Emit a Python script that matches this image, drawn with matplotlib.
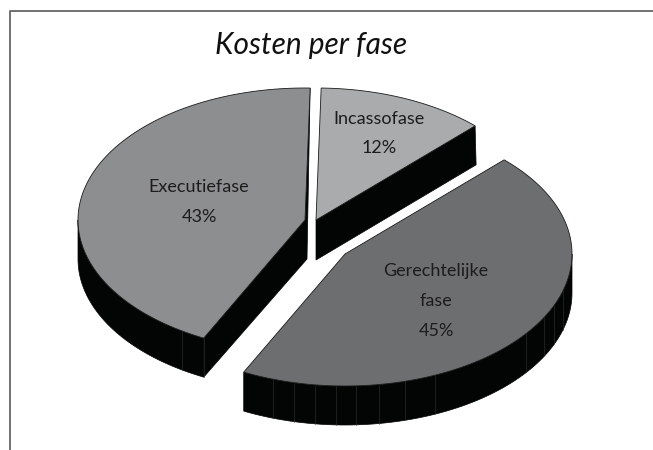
import numpy as np
import matplotlib
matplotlib.use("Agg")
import matplotlib.pyplot as plt
from matplotlib.patches import Polygon

title = "Kosten per fase"
labels = ["Incassofase", "Executiefase", "Gerechtelijke\nfase"]
shares = [12, 43, 45]
pct_labels = ["12%", "43%", "45%"]
colors = ["#a9abac", "#8d8e90", "#6d6e70"]

# angles on the rim where the side wall shows a faint seam
seams_exec = [237.2]
seams_ger = [251.4, 256.9, 262.5, 267.7, 272.8, 278.5, 285.2, 293.4, 323, 331.4, 337.1, 343.9]

start_angle = 45.5
rx, ry = 227, 132
depth = 39
apex = [(316, 220), (305, 220), (345, 254)]
label_pos = [(379, 119, 29), (199, 187, 30), (436, 271, 30)]

plt.rcParams["font.family"] = "Lato"
fig = plt.figure(figsize=(6.53, 4.5), dpi=100)
ax = fig.add_axes([0, 0, 1, 1])
ax.set_xlim(0, 653)
ax.set_ylim(450, 0)
ax.axis("off")


def rim(center, t):
    t = np.radians(t)
    return np.column_stack([center[0] + rx * np.cos(t), center[1] - ry * np.sin(t)])


def wall(center, t0, t1, z):
    ts = np.linspace(t0, t1, 80)
    top = rim(center, ts)
    bottom = top + [0, depth]
    ax.add_patch(Polygon(np.vstack([top, bottom[::-1]]), fc="#030504", ec="#030504", lw=0.5, zorder=z))


# frame, only top and left are drawn
ax.plot([10, 10, 653], [450, 11, 11], color="#666666", lw=1.3, zorder=1)

edges = start_angle + np.concatenate([[0], np.cumsum(shares)]) * 3.6

# outer walls
wall(apex[1], 180, edges[2], 2)
wall(apex[2], edges[2], 360, 2)

# cut walls
p0 = rim(apex[0], [edges[0]])[0]
ax.add_patch(Polygon([p0, apex[0], (apex[0][0], apex[0][1] + depth + 1), p0 + [1, depth]],
                     fc="#030504", ec="#030504", lw=0.5, zorder=2))
p1 = rim(apex[1], [edges[2]])[0]
p2 = rim(apex[1], [edges[1]])[0]
ax.add_patch(Polygon([p1, apex[1], p2, (apex[1][0] + 2, apex[1][1] + depth), p1 + [0, depth]],
                     fc="#030504", ec="#030504", lw=0.5, zorder=2))

# seams on the walls
for center, seams in [(apex[1], seams_exec + [edges[2]]), (apex[2], seams_ger)]:
    for s in seams:
        p = rim(center, [s])[0]
        ax.plot([p[0], p[0]], [p[1], p[1] + depth], color="#333333", lw=0.4, zorder=3)

# top faces
for i in range(3):
    ts = np.linspace(edges[i], edges[i + 1], 120)
    pts = np.vstack([[apex[i]], rim(apex[i], ts)])
    ax.add_patch(Polygon(pts, closed=True, fc=colors[i], ec="#1a1a1a", lw=0.6, zorder=4))

ax.text(311, 45, title, fontsize=21.5, style="italic", ha="center", va="center", color="#111111", zorder=5)

for i in range(3):
    x, y, step = label_pos[i]
    lines = labels[i].split("\n") + [pct_labels[i]]
    for n, line in enumerate(lines):
        ax.text(x, y + n * step, line, fontsize=13, ha="center", va="center", color="#1c1c1c", zorder=5)

fig.savefig("out.png", dpi=100)
